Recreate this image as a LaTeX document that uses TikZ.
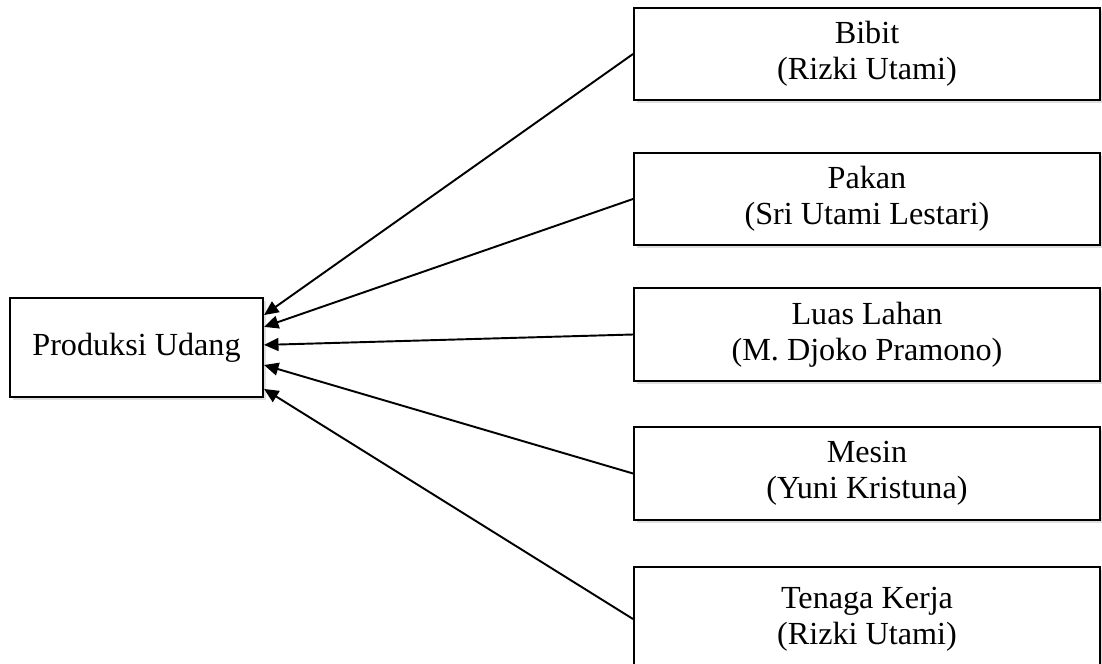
\documentclass[tikz,border=0pt]{standalone}
\usepackage{fontspec}
\setmainfont{Liberation Serif}
\usepackage{tikz}
\usetikzlibrary{arrows.meta,shadows}

\tikzset{
  box/.style={draw, line width=0.8pt, fill=white, align=center,
    font=\fontsize{12.5}{14}\selectfont,
    drop shadow={shadow xshift=1.2pt, shadow yshift=-1.2pt, opacity=0.25}},
  factor/.style={box, minimum width=181pt, minimum height=36pt},
  >={Triangle[length=5.6pt,width=5pt]}
}

\begin{document}
\begin{tikzpicture}[x=0.3885pt, y=-0.3885pt, line width=0.75pt]
\useasboundingbox (0,0) rectangle (1102,664);

\node [box, minimum width=98.3pt, minimum height=38.5pt] (udang) at (136.5,347.5) {Produksi Udang};

\node [factor] (bibit) at (867,54) {Bibit\\(Rizki Utami)};
\node [factor] (pakan) at (867,199) {Pakan\\(Sri Utami Lestari)};
\node [factor] (lahan) at (867,334.5) {Luas Lahan\\(M. Djoko Pramono)};
\node [factor] (mesin) at (867,473.5) {Mesin\\(Yuni Kristuna)};
\node [factor, minimum height=40.4pt, anchor=north] (kerja) at (867,566) {Tenaga Kerja\\(Rizki Utami)};

\draw [->] (bibit.west) -- ([yshift=12.6pt]udang.east);
\draw [->] (pakan.west) -- ([yshift=8pt]udang.east);
\draw [->] (lahan.west) -- ([yshift=1pt]udang.east);
\draw [->] (mesin.west) -- ([yshift=-6.8pt]udang.east);
\draw [->] (kerja.west) -- ([yshift=-16.1pt]udang.east);

\end{tikzpicture}
\end{document}
